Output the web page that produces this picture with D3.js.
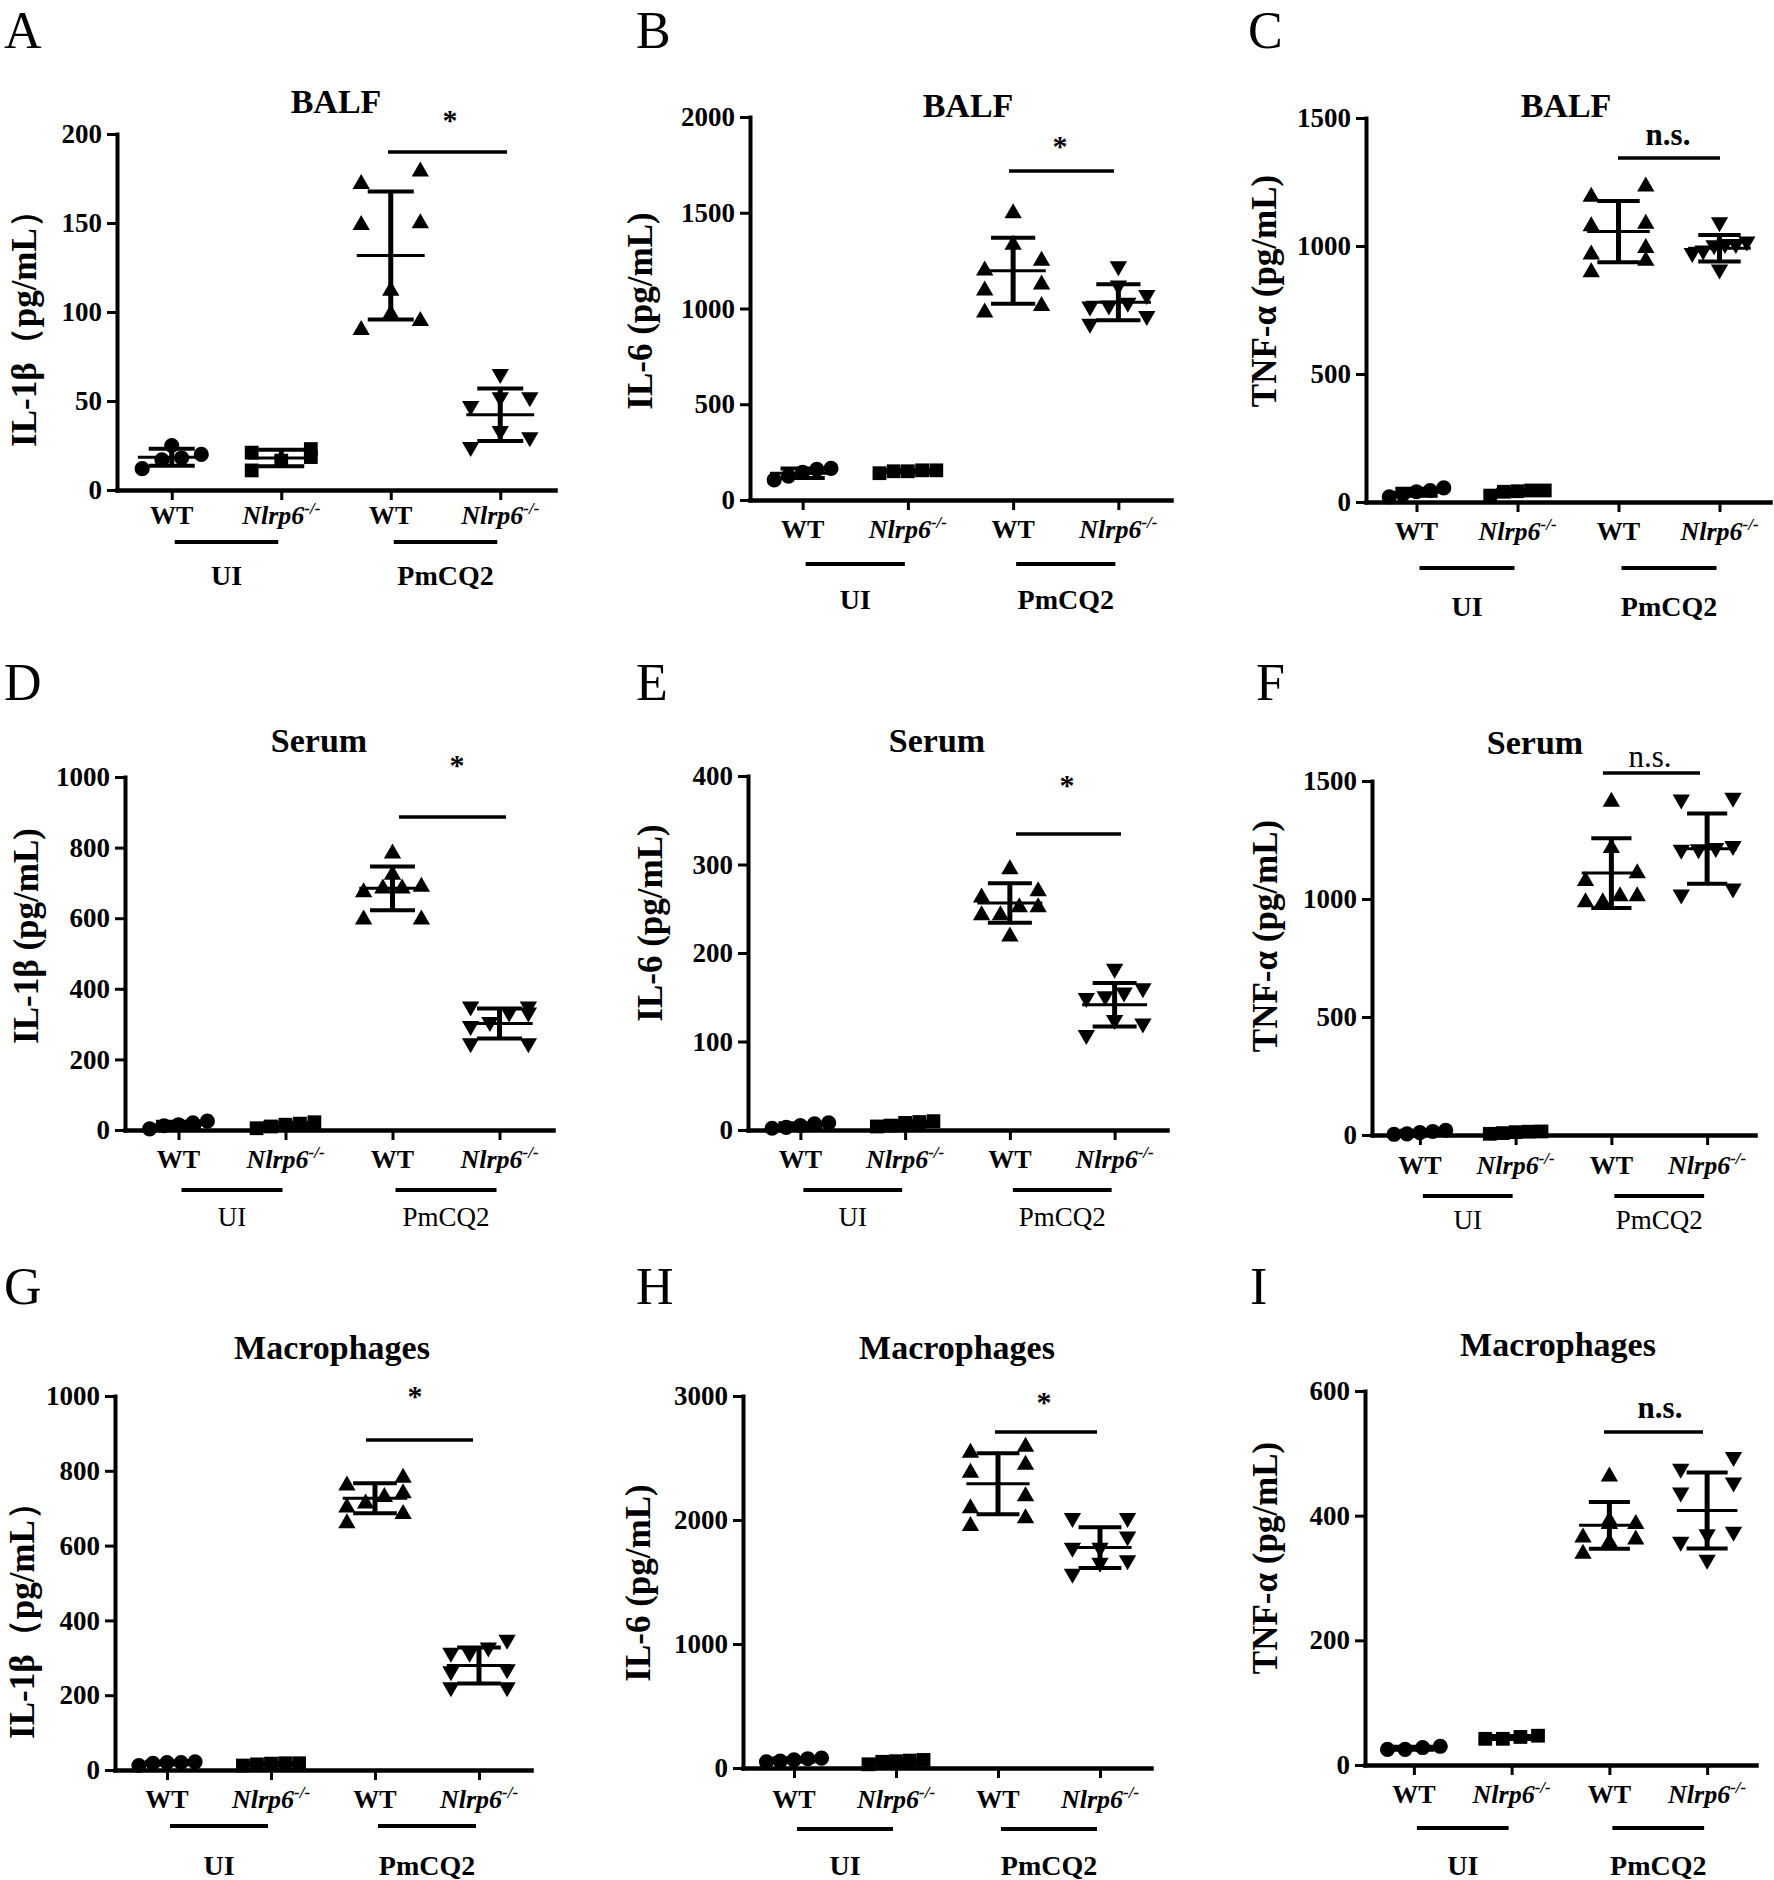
<!DOCTYPE html>
<html>
<head>
<meta charset="utf-8">
<script src="https://cdn.jsdelivr.net/npm/d3@7"></script>
<style>
  body { margin: 0; background: #fff; }
  text { font-family: "Liberation Serif", "Times New Roman", serif; fill: #000; }
</style>
</head>
<body>
<svg id="fig" width="1774" height="1880"></svg>
<script>

// x categories (WT / Nlrp6-/-, under UI and PmCQ2)
const GROUP_LABELS = ["WT", "Nlrp6", "WT", "Nlrp6"];
const CONDITIONS = ["UI", "PmCQ2"];
const MARKERS = ["circle", "square", "up", "down"];

// values: [WT UI, Nlrp6 UI, WT PmCQ2, Nlrp6 PmCQ2]
const balfIL1b = [[20, 25, 12, 17, 18], [18.5, 23, 11, 16.5, 21],
	[150, 173, 180, 151, 113, 100, 91, 96], [64, 51, 46, 51, 32, 23, 28.5]];
const balfIL6 = [[125, 165, 145, 160, 105], [150, 155, 150, 155, 140],
	[1508, 1343, 1209, 1260, 1105, 1136, 990, 1023], [1210, 1110, 1060, 1000, 1020, 1005, 910, 950]];
const balfTNF = [[30, 55, 40, 45, 20], [40, 45, 42, 45, 25],
	[1200, 1240, 1095, 1085, 1000, 950, 975, 905], [1085, 1000, 1010, 995, 1000, 975, 965, 900]];
const serumIL1b = [[12, 25, 15, 20, 3], [10, 22, 15, 18, 5],
	[789, 729, 679, 695, 690, 690, 602, 602], [344, 344, 327, 327, 300, 289, 240, 240]];
const serumIL6 = [[3, 8, 5, 7, 2], [5, 10, 8, 9, 4],
	[297, 265, 272, 254, 254, 245, 245, 221], [180, 158, 149, 147, 153, 122, 118, 105]];
const serumTNF = [[5, 20, 10, 15, 3], [8, 15, 12, 14, 5],
	[1421, 1225, 1085, 1118, 995, 1020, 995, 1020], [1413, 1421, 1202, 1208, 1200, 1216, 1011, 1036]];
const macIL1b = [[20, 22, 20, 18, 12], [15, 18, 18, 17, 12],
	[787, 766, 745, 735, 718, 707, 690, 665], [343, 308, 322, 308, 264, 259, 216, 216]];
const macIL6 = [[55, 80, 65, 75, 50], [50, 65, 55, 60, 30],
	[2606, 2558, 2398, 2462, 2207, 2111, 1967, 2031], [2000, 2000, 1850, 1760, 1760, 1660, 1550, 1640]];
const macTNF = [[25, 30, 28, 25], [42, 47, 45, 42],
	[466, 390, 390, 395, 365, 368, 342, 360], [472, 491, 450, 434, 371, 367, 355, 326]];

// y tick labels
const ticksA = [0, 50, 100, 150, 200];
const ticksB = [0, 500, 1000, 1500, 2000];
const ticksC = [0, 500, 1000, 1500];
const ticksD = [0, 200, 400, 600, 800, 1000];
const ticksE = [0, 100, 200, 300, 400];
const ticksF = [0, 500, 1000, 1500];
const ticksG = [0, 200, 400, 600, 800, 1000];
const ticksH = [0, 1000, 2000, 3000];
const ticksI = [0, 200, 400, 600];

const IL1B = "IL-1β（pg/mL）";
const IL1B_2 = "IL-1β (pg/mL)";
const IL6 = "IL-6 (pg/mL)";
const TNF = "TNF-α (pg/mL)";

// layout of each panel (pixels)
const panels = [
	{ id: "A", title: "BALF", ylab: IL1B, data: balfIL1b, ticks: ticksA, sig: "*", bold: true,
	  x0: 117, x1: 555, yT: 134, yB: 490, lx: 4, ly: 48, tx: 336, ty: 113, yx: 24, yy: 320,
	  xly: 524, gly: 542, gty: 585, sig1: 388, sig2: 507, sigY: 152, stx: 450, sty: 130 },
	{ id: "B", title: "BALF", ylab: IL6, data: balfIL6, ticks: ticksB, sig: "*", bold: true,
	  x0: 750, x1: 1171, yT: 117, yB: 500, lx: 636, ly: 48, tx: 968, ty: 117, yx: 640, yy: 311,
	  xly: 538, gly: 564, gty: 609, sig1: 1009, sig2: 1114, sigY: 171, stx: 1060, sty: 156 },
	{ id: "C", title: "BALF", ylab: TNF, data: balfTNF, ticks: ticksC, sig: "n.s.", bold: true,
	  x0: 1366, x1: 1770, yT: 118, yB: 502, lx: 1248, ly: 48, tx: 1566, ty: 117, yx: 1264, yy: 291,
	  xly: 540, gly: 568, gty: 616, sig1: 1618, sig2: 1720, sigY: 158, stx: 1668, sty: 145 },
	{ id: "D", title: "Serum", ylab: IL1B_2, data: serumIL1b, ticks: ticksD, sig: "*", bold: false,
	  x0: 125, x1: 553, yT: 777, yB: 1130, lx: 4, ly: 700, tx: 319, ty: 752, yx: 26, yy: 936,
	  xly: 1168, gly: 1190, gty: 1226, sig1: 399, sig2: 506, sigY: 817, stx: 457, sty: 775 },
	{ id: "E", title: "Serum", ylab: IL6, data: serumIL6, ticks: ticksE, sig: "*", bold: false,
	  x0: 748, x1: 1167, yT: 776, yB: 1130, lx: 636, ly: 700, tx: 937, ty: 752, yx: 650, yy: 923,
	  xly: 1168, gly: 1190, gty: 1226, sig1: 1016, sig2: 1121, sigY: 834, stx: 1067, sty: 795 },
	{ id: "F", title: "Serum", ylab: TNF, data: serumTNF, ticks: ticksF, sig: "n.s.", bold: false,
	  x0: 1372, x1: 1755, yT: 781, yB: 1135, lx: 1256, ly: 700, tx: 1535, ty: 754, yx: 1265, yy: 936,
	  xly: 1174, gly: 1196, gty: 1229, sig1: 1603, sig2: 1700, sigY: 773, stx: 1650, sty: 767 },
	{ id: "G", title: "Macrophages", ylab: IL1B, data: macIL1b, ticks: ticksG, sig: "*", bold: true,
	  x0: 115, x1: 531, yT: 1396, yB: 1770, lx: 4, ly: 1304, tx: 332, ty: 1359, yx: 22, yy: 1612,
	  xly: 1808, gly: 1826, gty: 1875, sig1: 366, sig2: 473, sigY: 1440, stx: 415, sty: 1406 },
	{ id: "H", title: "Macrophages", ylab: IL6, data: macIL6, ticks: ticksH, sig: "*", bold: true,
	  x0: 743, x1: 1151, yT: 1396, yB: 1768, lx: 636, ly: 1304, tx: 957, ty: 1359, yx: 638, yy: 1583,
	  xly: 1808, gly: 1829, gty: 1875, sig1: 995, sig2: 1097, sigY: 1432, stx: 1044, sty: 1412 },
	{ id: "I", title: "Macrophages", ylab: TNF, data: macTNF, ticks: ticksI, sig: "n.s.", bold: true,
	  x0: 1365, x1: 1756, yT: 1391, yB: 1765, lx: 1250, ly: 1304, tx: 1558, ty: 1356, yx: 1265, yy: 1558,
	  xly: 1803, gly: 1828, gty: 1875, sig1: 1604, sig2: 1703, sigY: 1432, stx: 1660, sty: 1418 }
];

// points that sit at about the same height are laid side by side, like GraphPad does
function spreadOffsets(values, y, halfWidth, thresh) {
	const order = values.map((v, i) => i).sort((a, b) => values[a] - values[b]);
	const bins = [];
	let cur = null;
	order.forEach(i => {
		const py = y(values[i]);
		if (cur && Math.abs(py - cur.y0) < thresh) cur.items.push(i);
		else { cur = { y0: py, items: [i] }; bins.push(cur); }
	});
	const off = new Array(values.length).fill(0);
	bins.forEach(b => {
		const n = b.items.length;
		b.items.forEach((i, k) => {
			off[i] = n === 1 ? 0 : -halfWidth + k * 2 * halfWidth / (n - 1);
		});
	});
	return off;
}

function markerPath(kind) {
	if (kind === "circle") return d3.symbol(d3.symbolCircle, 180)();
	if (kind === "square") return d3.symbol(d3.symbolSquare, 190)();
	return d3.symbol(d3.symbolTriangle, 130)();
}

function drawPanel(svg, p) {
	const g = svg.append("g");
	const x = d3.scalePoint().domain([0, 1, 2, 3]).range([p.x0, p.x1]).padding(0.5);
	const y = d3.scaleLinear().domain([0, d3.max(p.ticks)]).range([p.yB, p.yT]);
	const step = x.step();

	// panel letter and title
	g.append("text").attr("x", p.lx).attr("y", p.ly).attr("font-size", 52).text(p.id);
	g.append("text").attr("x", p.tx).attr("y", p.ty).attr("text-anchor", "middle")
		.attr("font-size", 34).attr("font-weight", "bold").text(p.title);

	// y axis
	const yAxis = d3.axisLeft(y).tickValues(p.ticks).tickSize(10).tickSizeOuter(0).tickPadding(5)
		.tickFormat(d3.format("d"));
	const ya = g.append("g").attr("transform", `translate(${p.x0},0)`).call(yAxis);
	ya.select(".domain").attr("stroke-width", 4).attr("stroke-linecap", "square");
	ya.selectAll(".tick line").attr("stroke-width", 3);
	ya.selectAll(".tick text").attr("font-family", "Liberation Serif").attr("font-size", 27)
		.attr("font-weight", "bold").attr("fill", "#000");

	// x axis
	const xAxis = d3.axisBottom(x).tickSize(10).tickSizeOuter(0).tickFormat("");
	const xa = g.append("g").attr("transform", `translate(0,${p.yB})`).call(xAxis);
	xa.select(".domain").attr("stroke-width", 4.5).attr("stroke-linecap", "square");
	xa.selectAll(".tick line").attr("stroke-width", 3);

	// x labels
	GROUP_LABELS.forEach((lab, i) => {
		const t = g.append("text").attr("x", x(i)).attr("y", p.xly).attr("text-anchor", "middle")
			.attr("font-size", 26).attr("font-weight", "bold");
		if (lab === "WT") t.text(lab);
		else {
			t.append("tspan").attr("font-style", "italic").text(lab);
			t.append("tspan").attr("font-style", "italic").attr("font-size", 17).attr("dy", -10).text("-/-");
		}
	});

	// condition lines and labels
	CONDITIONS.forEach((c, j) => {
		const a = x(2 * j) + 3, b = x(2 * j + 1) - 3;
		g.append("line").attr("x1", a).attr("x2", b).attr("y1", p.gly).attr("y2", p.gly)
			.attr("stroke", "#000").attr("stroke-width", 4);
		g.append("text").attr("x", (a + b) / 2).attr("y", p.gty).attr("text-anchor", "middle")
			.attr("font-size", p.bold ? 28 : 27).attr("font-weight", p.bold ? "bold" : "normal").text(c);
	});

	// y label
	g.append("text").attr("transform", `translate(${p.yx},${p.yy}) rotate(-90)`)
		.attr("text-anchor", "middle").attr("dominant-baseline", "central")
		.attr("font-size", 35).attr("font-weight", "bold").text(p.ylab);

	// points
	p.data.forEach((vals, gi) => {
		const off = spreadOffsets(vals, y, 0.27 * step, 15);
		const kind = MARKERS[gi];
		g.append("g").selectAll("path").data(vals).enter().append("path")
			.attr("d", markerPath(kind))
			.attr("transform", (d, i) => `translate(${x(gi) + off[i]},${y(d) + (kind === "up" ? 2 : kind === "down" ? -2 : 0)})` +
				(kind === "down" ? " rotate(180)" : ""))
			.attr("fill", "#000");

		// mean and SD
		const m = d3.mean(vals), sd = d3.deviation(vals);
		const cx = x(gi);
		const bars = g.append("g").attr("stroke", "#000");
		bars.append("line").attr("x1", cx - 0.31 * step).attr("x2", cx + 0.31 * step)
			.attr("y1", y(m)).attr("y2", y(m)).attr("stroke-width", 3);
		bars.append("line").attr("x1", cx).attr("x2", cx)
			.attr("y1", y(m - sd)).attr("y2", y(m + sd)).attr("stroke-width", 5);
		[m - sd, m + sd].forEach(v => {
			bars.append("line").attr("x1", cx - 0.21 * step).attr("x2", cx + 0.21 * step)
				.attr("y1", y(v)).attr("y2", y(v)).attr("stroke-width", 4);
		});
	});

	// significance
	g.append("line").attr("x1", p.sig1).attr("x2", p.sig2).attr("y1", p.sigY).attr("y2", p.sigY)
		.attr("stroke", "#000").attr("stroke-width", 3.5);
	const isStar = p.sig === "*";
	g.append("text").attr("x", p.stx).attr("y", p.sty).attr("text-anchor", "middle")
		.attr("font-size", isStar ? 30 : 31)
		.attr("font-weight", (p.bold || isStar) ? "bold" : "normal").text(p.sig);
}

const svg = d3.select("#fig");
svg.append("rect").attr("width", 1774).attr("height", 1880).attr("fill", "#fff");
panels.forEach(p => drawPanel(svg, p));

</script>
</body>
</html>
